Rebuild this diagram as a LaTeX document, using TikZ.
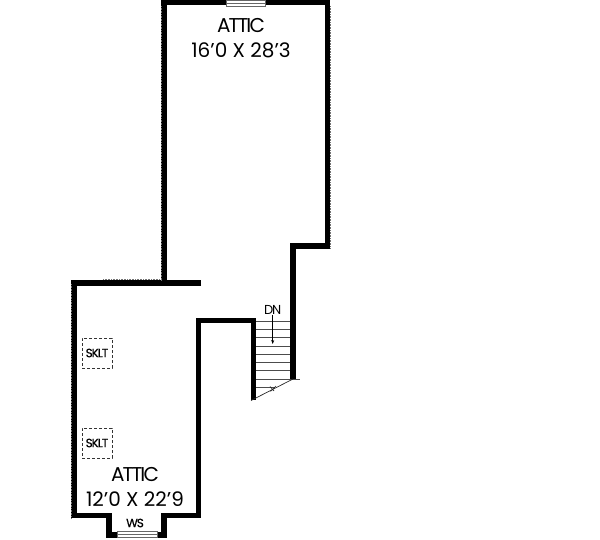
\documentclass[tikz,border=0pt]{standalone}
\usepackage{fontspec}
\setmainfont{Poppins}
\newfontfamily\tightfont[LetterSpace=-9.5]{Poppins}
\newfontfamily\tagfont[LetterSpace=-9,FakeBold=0.5]{Poppins}
\usepackage{tikz}
\usetikzlibrary{arrows.meta}

\begin{document}
\begin{tikzpicture}[
	x=1pt, y=-1pt,
	wall/.style={line width=5.6pt, line cap=butt, line join=miter, black},
	edge/.style={line width=.6pt, densely dotted, black!55},
	glass/.style={draw=black!60, fill=white, line width=.7pt},
	tread/.style={line width=.8pt, black!70},
	room/.style={inner sep=0pt, align=center, font=\fontsize{20}{25}\selectfont, text=black},
	tag/.style={inner sep=0pt, font=\fontsize{12}{12}\selectfont\tagfont, text=black},
	sklt/.style={tag, draw=black!80, densely dashed, line width=.6pt, minimum size=30pt}
	]
	\useasboundingbox (0,0) rectangle (600,540);
	% outer walls
	\draw[wall] (164,284) -- (164,2.5) -- (327.5,2.5) -- (327.5,246) -- (293,246) -- (293,379);
	\draw[wall] (201,283) -- (74,283) -- (74,515.5) -- (109,515.5) -- (109,535) -- (164,535) -- (164,515.5) -- (198.5,515.5)
		-- (198.5,320.5) -- (253.5,320.5) -- (253.5,400);
	% wall edges
	\draw[edge] (161,6) -- (161,280);
	\draw[edge] (103,279.7) -- (161,279.7);
	\draw[edge] (71,284) -- (71,518);
	\draw[edge] (330.3,6) -- (330.3,249);
	% windows
	\filldraw[glass] (226,0) rectangle (265,6.5);
	\draw[black!60,line width=.7pt] (226,3) -- (265,3);
	\filldraw[glass] (117,531) rectangle (157,537.5);
	\draw[black!60,line width=.7pt] (117,534) -- (157,534);
	% stairs
	\foreach \i in {0,...,7}
	{
		\pgfmathsetmacro\ty{321 + 8.3*\i}
		\draw[tread] (256,\ty) -- (290,\ty);
	}
	\draw[tread] (290,379) -- (300,379);
	\draw[tread] (256,387.4) -- (275,387.4);
	\coordinate (cutL) at (251,400.5);
	\coordinate (cutR) at (293,379);
	\draw[line width=.7pt, black!85] (cutL) -- (cutR);
	\draw[line width=.7pt, black!85] (270,386.5) -- (274,391) (276,386) -- (270.5,391.5);
	\node[inner sep=0pt, font=\fontsize{13}{14}\selectfont\tightfont] (dn) at (272.7,310) {DN};
	\coordinate (dnEnd) at (272.7,344);
	\draw[-{Stealth[length=4pt,width=3pt]}, line width=.5pt] (dn.south) -- (dnEnd);
	% labels
	\node[room] (upper) at (241,38) {{\tightfont ATTIC}\\16'0 X 28'3};
	\node[room] (lower) at (135,486.5) {{\tightfont ATTIC}\\12'0 X 22'9};
	\node[sklt] (sk1) at (97,353) {SKLT};
	\node[sklt] (sk2) at (97,443) {SKLT};
	\node[tag] (ws) at (135,523) {WS};
\end{tikzpicture}
\end{document}
